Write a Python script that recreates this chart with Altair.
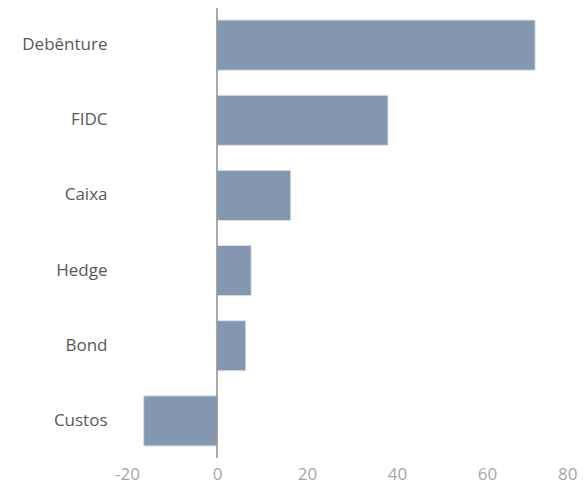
import altair as alt
import pandas as pd

categories = ["Debênture", "FIDC", "Caixa", "Hedge", "Bond", "Custos"]
values = [70.7, 38.0, 16.4, 7.6, 6.4, -16.3]
x_ticks = [-20, 0, 20, 40, 60, 80]

df = pd.DataFrame({"cat": categories, "val": values})

FONT = "Open Sans"

bars = alt.Chart(df).mark_bar(
    color="#8497B0", stroke="#dce2ea", strokeWidth=1
).encode(
    x=alt.X(
        "val:Q",
        scale=alt.Scale(domain=[-20, 80], nice=False, zero=False),
        axis=alt.Axis(
            values=x_ticks, title=None, grid=False, domain=False, ticks=False,
            labelFont=FONT, labelFontSize=17, labelColor="#a6a6a6",
            labelPadding=8, labelFlush=False,
            labelExpr="toString(datum.value)",
            labelAlign=alt.ExprRef(expr="datum.value == 80 ? 'right' : 'center'"),
        ),
    ),
    y=alt.Y(
        "cat:N",
        sort=categories,
        scale=alt.Scale(paddingInner=0.333, paddingOuter=0.16),
        axis=alt.Axis(
            title=None, domain=False, ticks=False, grid=False,
            labelFont=FONT, labelFontSize=17, labelColor="#595959",
            labelPadding=20,
        ),
    ),
)

zero_rule = alt.Chart(pd.DataFrame({"z": [0]})).mark_rule(
    color="#8c8c8c", strokeWidth=1.5
).encode(x="z:Q")

chart = alt.layer(bars, zero_rule).properties(
    width=450,
    height=450,
    autosize=alt.AutoSizeParams(type="none"),
    padding={"left": 119, "top": 0, "right": 1, "bottom": 25},
).configure_view(stroke=None)

chart.save("out.html", embed_options={"renderer": "svg", "actions": False})
